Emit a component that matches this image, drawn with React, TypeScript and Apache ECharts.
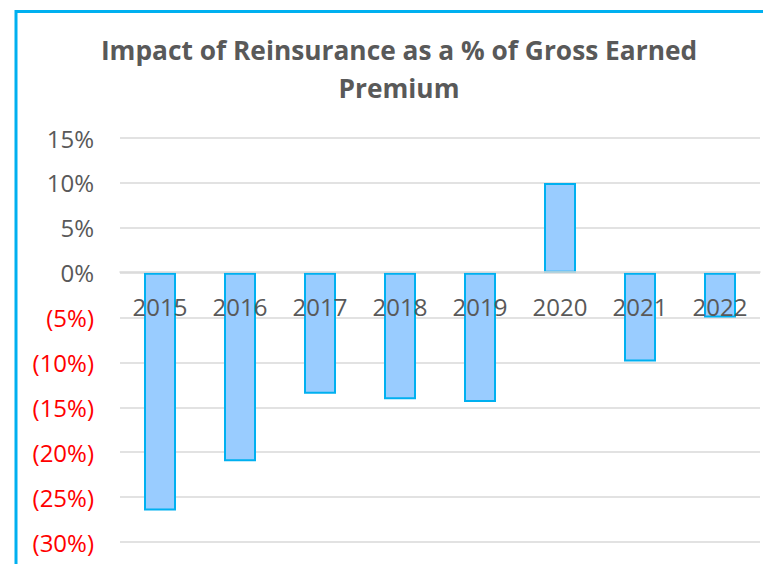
import React, { useEffect, useRef } from "react";
import * as echarts from "echarts";

const years = ["2015", "2016", "2017", "2018", "2019", "2020", "2021", "2022"];
const impactPct = [-26.5, -21.0, -13.5, -14.1, -14.4, 10.0, -9.9, -5.0];
const titleText = "Impact of Reinsurance as a % of Gross Earned\nPremium";

export default function App() {
  const ref = useRef<HTMLDivElement>(null);
  useEffect(() => {
    if (!ref.current) return;
    const chart = echarts.init(ref.current, undefined, { renderer: "svg" });
    const font = "'Open Sans', 'Liberation Sans', sans-serif";
    chart.setOption({
      animation: false,
      grid: {
        left: 120,
        right: 3,
        top: 138,
        bottom: 22,
        containLabel: false,
        outerBoundsMode: "none",
      },
      xAxis: {
        type: "category",
        data: years,
        z: 10,
        offset: -270,
        axisLine: { show: true, onZero: false, lineStyle: { color: "#d9d9d9", width: 1.5 } },
        axisTick: { show: false },
        axisLabel: {
          margin: 22,
          fontFamily: font,
          fontSize: 24,
          color: "#595959",
        },
      },
      yAxis: {
        type: "value",
        min: -30,
        max: 15,
        interval: 5,
        axisLine: { show: false },
        axisTick: { show: false },
        splitLine: { lineStyle: { color: "#d9d9d9", width: 1.5 } },
        axisLabel: {
          margin: 26,
          fontFamily: font,
          fontSize: 24,
          formatter: (v: number) => (v < 0 ? `{n|(${-v}%)}` : `{p|${v}%}`),
          rich: {
            n: { color: "#ff0000", fontFamily: font, fontSize: 24 },
            p: { color: "#595959", fontFamily: font, fontSize: 24 },
          },
        },
      },
      series: [
        {
          type: "bar",
          data: impactPct,
          barWidth: "40%",
          itemStyle: {
            color: "#99ccff",
            borderColor: "#00b0f0",
            borderWidth: 2,
          },
        },
      ],
      graphic: [
        {
          type: "rect",
          shape: { x: 16, y: 11.5, width: 900, height: 700 },
          style: { fill: "none", stroke: "#00b0f0", lineWidth: 3 },
          silent: true,
        },
        {
          type: "text",
          x: 399,
          y: 31,
          silent: true,
          style: {
            text: titleText,
            textAlign: "center",
            textVerticalAlign: "top",
            fontFamily: font,
            fontSize: 26.3,
            fontWeight: "bold",
            fill: "#595959",
            lineHeight: 38,
          },
        },
      ],
    });
    return () => chart.dispose();
  }, []);
  return (
    <div
      ref={ref}
      style={{ position: "absolute", left: 0, top: 0, width: 763, height: 564 }}
    />
  );
}
